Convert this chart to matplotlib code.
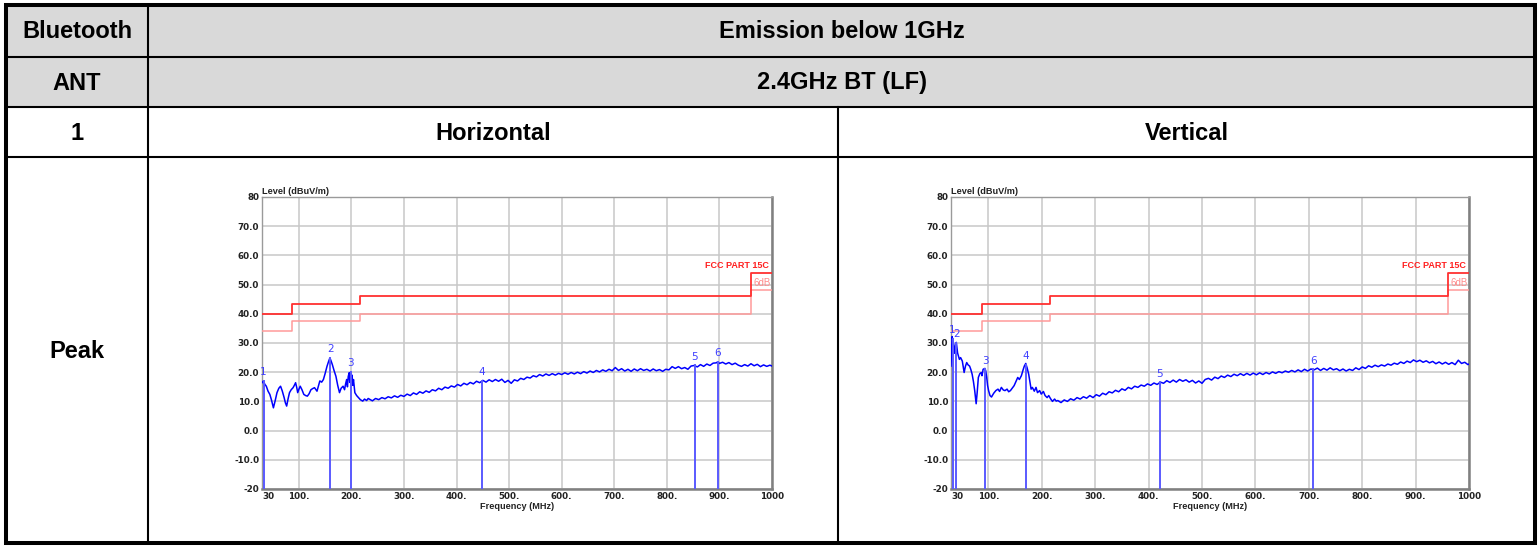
import numpy as np
import matplotlib
matplotlib.use("Agg")
import matplotlib.pyplot as plt
from matplotlib.patches import Rectangle

#%% data

# FCC part 15C limit (class B, 3 m) and the -6 dB margin line
limit_freq = [30, 88, 88, 216, 216, 960, 960, 1000]
limit_level = [40, 40, 43.5, 43.5, 46, 46, 54, 54]
margin_level = [34, 34, 37.5, 37.5, 40, 40, 48, 48]

# horizontal polarisation trace
h_freq = [30, 32.7, 35.5, 38.2, 41.5, 44.9, 48, 51.7, 55, 58.5, 62, 65.3, 68.5, 72.1, 74.5, 76.9,
          79.5, 82.3, 85.5, 89.1, 91.5, 93.9, 96, 97.9, 100.5, 102.7, 106, 109.5, 113, 116.3,
          119.5, 123.1, 126.5, 129.9, 132.5, 134.6, 137.5, 140, 143.5, 146.8, 150, 153.6, 156.5,
          159.1, 161.5, 163.8, 167, 170.6, 174, 177.4, 180.5, 184.2, 187, 189, 191, 192.5, 194,
          195.7, 197, 198.5, 200, 201.2, 202.5, 204, 206.6, 210, 213.4, 217, 221.6, 225, 229, 232,
          235, 240, 246, 252, 258, 264, 270, 276, 282, 288, 294, 300, 306, 312, 318, 324, 330, 336,
          342, 348, 354, 360, 366, 372, 378, 384, 390, 396, 402, 408, 414, 420, 426, 432, 438, 444,
          450, 456, 462, 468, 474, 480, 486, 492, 498, 504, 510, 516, 522, 528, 534, 540, 546, 552,
          558, 564, 570, 576, 582, 588, 594, 600, 606, 612, 618, 624, 630, 636, 642, 648, 654, 660,
          666, 672, 678, 684, 690, 696, 702, 708, 714, 720, 726, 732, 738, 744, 750, 756, 762, 768,
          774, 780, 786, 792, 798, 804, 810, 816, 822, 828, 834, 840, 846, 852, 858, 864, 870, 876,
          882, 888, 894, 897, 900, 906, 912, 918, 924, 930, 936, 942, 948, 954, 960, 966, 972, 978,
          984, 990, 996, 1000]
h_level = [16.4, 17.0, 15.8, 15.2, 13.5, 12.4, 10.5, 7.8, 10.2, 13.0, 14.5, 15.2, 13.6, 11.3, 9.5, 8.4,
           10.8, 13.0, 14.0, 14.7, 15.5, 16.4, 14.8, 13.0, 14.3, 15.2, 14.0, 12.4, 12.0, 11.8,
           12.6, 14.0, 14.4, 14.7, 14.0, 13.5, 15.4, 17.0, 16.6, 17.5, 19.5, 22.0, 23.6,
           24.9, 23.8, 22.6, 20.6, 18.6, 15.5, 13.0, 14.5, 15.2, 14.0, 16.0, 17.5, 15.0, 18.5,
           19.8, 16.5, 20.1, 17.0, 19.0, 15.5, 17.5, 13.0, 12.0, 11.3, 10.6, 10.1, 10.8, 10.3, 11.0,
           10.7, 10.2, 11.0, 10.6, 11.3, 10.9, 11.6, 11.2, 11.9, 11.4, 12.1, 11.7, 12.5, 12.0, 12.9, 12.4, 13.3, 12.8,
           13.6, 13.1, 14.0, 13.6, 14.5, 14.0, 14.9, 14.5, 15.3, 14.9, 15.8, 15.3, 16.2, 15.7, 16.5, 16.0, 16.9, 16.4,
           17.2, 16.6, 17.4, 16.8, 17.5, 16.9, 17.6, 16.5, 17.2, 16.2, 17.4, 17.0, 17.9, 17.5, 18.3, 18.0, 18.8, 18.4,
           19.2, 18.7, 19.4, 18.9, 19.5, 19.0, 19.6, 19.2, 19.8, 19.3, 19.9, 19.4, 20.0, 19.5, 20.2, 19.7, 20.4, 19.9,
           20.6, 20.1, 20.8, 20.3, 21.0, 20.5, 21.6, 20.6, 21.2, 20.4, 21.0, 20.3, 21.1, 20.5, 21.2, 20.6, 21.0, 20.4,
           21.1, 20.5, 20.9, 20.3, 21.0, 20.8, 21.9, 21.3, 21.9, 21.2, 21.6, 21.0, 22.1, 22.3, 21.8, 22.6, 22.0, 22.8,
           22.3, 23.1, 23.2, 23.6, 23.0, 23.4, 22.8, 23.3, 22.6, 23.1, 22.4, 22.0, 22.6, 22.1, 22.9, 22.2, 22.7, 21.9,
           22.5, 22.0, 22.4, 22.1]
h_mark_freq = [33, 160, 199, 448, 853, 897]
h_mark_level = [17.0, 24.9, 20.1, 17.1, 22.3, 23.6]

# vertical polarisation trace
v_freq = [30, 31, 32, 33.5, 35.5, 37, 38.9, 40, 42.3, 45.7, 48, 51.2, 54.6, 57, 59.4, 62, 64.8, 67,
          69.6, 72, 74.4, 77.1, 79, 81.2, 84, 86.7, 88, 90.1, 93.5, 95, 96.9, 98.5, 100.4, 103,
          105.8, 110, 114, 118, 121, 124.3, 128, 131.1, 135, 138, 141.3, 145, 148.2, 152, 155, 158,
          161.8, 165, 167.3, 170, 172.5, 175.5, 178, 180, 182.3, 186, 189.2, 192, 196, 199, 203,
          206.2, 210, 213, 216.5, 220, 224, 227,
          230, 236, 242, 248, 254, 260, 266, 272, 278, 284, 290, 296, 302, 308, 314, 320, 326, 332,
          338, 344, 350, 356, 362, 368, 374, 380, 386, 392, 398, 404, 410, 416, 422, 428, 434, 440,
          446, 452, 458, 464, 470, 476, 482, 488, 494, 500, 506, 512, 518, 524, 530, 536, 542, 548,
          554, 560, 566, 572, 578, 584, 590, 596, 602, 608, 614, 620, 626, 632, 638, 644, 650, 656,
          662, 668, 674, 680, 686, 692, 698, 704, 710, 716, 722, 728, 734, 740, 746, 752, 758, 764,
          770, 776, 782, 788, 794, 800, 806, 812, 818, 824, 830, 836, 842, 848, 854, 860, 866, 872,
          878, 884, 890, 896, 902, 908, 914, 920, 926, 932, 938, 944, 950, 956, 962, 968, 974, 980,
          986, 992, 998, 1000]
v_level = [22.1, 27.5, 32.2, 31.0, 28.9, 26.5, 30.0, 30.2, 26.6, 24.4, 25.0, 23.8, 19.9, 22.0, 23.3, 22.5, 22.1, 21.0,
           19.3, 16.8, 13.7, 9.2, 13.0, 18.2, 19.5, 19.9, 18.8, 21.0, 21.3, 20.5, 18.2, 15.5, 13.7, 12.0,
           11.5, 12.8, 13.7, 14.2, 13.4, 14.8, 13.9, 13.7, 14.2, 13.3, 13.7, 14.6, 15.4, 17.0, 18.2, 17.5,
           18.8, 20.8, 22.1, 23.0, 21.5, 19.3, 16.5, 14.2, 14.8, 13.5, 14.8, 13.0, 13.7, 12.5, 13.4,
           12.0, 11.3, 12.0, 10.9, 10.0, 10.8, 10.1,
           10.3, 9.6, 10.5, 10.0, 10.9, 10.4, 11.3, 10.8, 11.6, 11.1, 12.0, 11.3, 12.3, 11.8, 12.8, 12.3, 13.3, 12.9,
           13.8, 13.3, 14.3, 13.8, 14.8, 14.3, 15.2, 14.8, 15.6, 15.2, 16.0, 15.5, 16.3, 15.8, 16.6, 16.2, 17.1, 16.5,
           17.3, 16.6, 17.5, 16.9, 17.4, 16.6, 17.2, 16.3, 17.0, 16.2, 17.5, 17.9, 17.3, 18.3, 17.8, 18.7, 18.2, 19.0,
           18.5, 19.3, 18.8, 19.5, 18.9, 19.6, 19.0, 19.7, 19.1, 19.8, 19.2, 19.9, 19.4, 20.1, 19.6, 20.2, 19.8, 20.4,
           20.0, 20.6, 20.1, 20.8, 20.2, 21.0, 20.4, 21.1, 20.8, 21.4, 20.6, 21.3, 20.7, 21.5, 20.8, 21.2, 20.5, 21.1,
           20.4, 21.0, 20.6, 21.5, 20.9, 21.8, 21.3, 22.2, 21.7, 22.4, 21.9, 22.5, 22.1, 22.8, 22.4, 23.1, 22.7, 23.5,
           23.0, 23.8, 23.3, 24.2, 23.6, 24.1, 23.4, 23.9, 23.2, 23.7, 22.9, 23.5, 22.8, 23.4, 22.7, 23.3, 22.6, 24.1,
           23.0, 23.4, 22.6, 22.8]
v_mark_freq = [33, 40, 94, 170, 421, 708]
v_mark_level = [31.5, 30.0, 21.0, 22.5, 16.5, 21.0]

x_ticks = [30, 100, 200, 300, 400, 500, 600, 700, 800, 900, 1000]
x_labels = ["30", "100.", "200.", "300.", "400.", "500.", "600.", "700.", "800.", "900.", "1000"]
y_ticks = [-20, -10, 0, 10, 20, 30, 40, 50, 60, 70, 80]
y_labels = ["-20", "-10.0", "0.0", "10.0", "20.0", "30.0", "40.0", "50.0", "60.0", "70.0", "80"]

#%% figure / table frame

W, H = 1538, 546
fig = plt.figure(figsize=(W / 100, H / 100), dpi=100)
bg = fig.add_axes([0, 0, 1, 1])
bg.set_xlim(0, W)
bg.set_ylim(H, 0)
bg.axis("off")

bg.add_patch(Rectangle((6, 5), 1529, 102, color="#d9d9d9", lw=0))
bg.add_patch(Rectangle((6, 5), 1529, 538, fill=False, ec="black", lw=2.9))
for y in [57, 107, 157]:
    bg.plot([6, 1535], [y, y], color="black", lw=1.5)
bg.plot([148, 148], [5, 543], color="black", lw=1.5)
bg.plot([838, 838], [107, 543], color="black", lw=1.5)

tkw = dict(family="Liberation Sans", weight="bold", fontsize=17, ha="center", va="center")
bg.text(77, 32, "Bluetooth", **tkw)
bg.text(842, 32, "Emission below 1GHz", **tkw)
bg.text(77, 83, "ANT", **tkw)
bg.text(842, 83, "2.4GHz BT (LF)", **tkw)
bg.text(77, 133, "1", **tkw)
bg.text(493, 133, "Horizontal", **tkw)
bg.text(1187, 133, "Vertical", **tkw)
bg.text(77, 352, "Peak", **tkw)


def draw_scan(ax, freq, level, mark_freq, mark_level):
    ax.set_facecolor("white")
    ax.set_xlim(30, 1000)
    ax.set_ylim(-20, 80)
    ax.set_xticks(x_ticks)
    ax.set_xticklabels(x_labels)
    ax.set_yticks(y_ticks)
    ax.set_yticklabels(y_labels)
    ax.tick_params(length=0, pad=2)
    for lab in ax.get_xticklabels() + ax.get_yticklabels():
        lab.set_family("DejaVu Sans")
        lab.set_weight("bold")
        lab.set_fontsize(6.3)
        lab.set_color("#222222")
    ax.get_xticklabels()[0].set_ha("left")
    ax.grid(True, color="#c8c8c8", lw=1.1)
    ax.set_axisbelow(True)
    for side in ["left", "top"]:
        ax.spines[side].set_color("#9a9a9a")
        ax.spines[side].set_linewidth(1.0)
    for side in ["right", "bottom"]:
        ax.spines[side].set_color("#808080")
        ax.spines[side].set_linewidth(1.8)

    ax.plot(limit_freq, margin_level, color="#ff9a9a", lw=1.1, zorder=3)
    ax.plot(limit_freq, limit_level, color="#ff3030", lw=1.3, zorder=3)
    ax.text(995, 55.0, "FCC PART 15C", color="#ff2020", family="Liberation Sans",
            weight="bold", fontsize=6.5, ha="right", va="bottom")
    ax.text(997, 50.5, "6dB", color="#ff8a8a", family="Liberation Sans",
            fontsize=7, ha="right", va="center")

    ax.plot(freq, level, color="#0000ff", lw=1.1, zorder=4)
    for i, (f, v) in enumerate(zip(mark_freq, mark_level)):
        ax.plot([f, f], [-20, v], color="#5a5aff", lw=1.4, zorder=5)
        ax.text(f, v + 1.2, str(i + 1), color="#4040ff", fontsize=7.5,
                ha="center", va="bottom", zorder=6)

    ax.text(0, 1.004, "Level (dBuV/m)", transform=ax.transAxes, family="Liberation Sans",
            weight="bold", fontsize=6.6, ha="left", va="bottom", color="#222222")
    ax.set_xlabel("Frequency (MHz)", family="Liberation Sans", weight="bold",
                  fontsize=6.6, labelpad=1, color="#222222")


ax_h = fig.add_axes([262 / W, 1 - 489 / H, 510 / W, 292 / H])
draw_scan(ax_h, h_freq, h_level, h_mark_freq, h_mark_level)

ax_v = fig.add_axes([951 / W, 1 - 489 / H, 518 / W, 292 / H])
draw_scan(ax_v, v_freq, v_level, v_mark_freq, v_mark_level)

fig.savefig("out.png", dpi=100)
